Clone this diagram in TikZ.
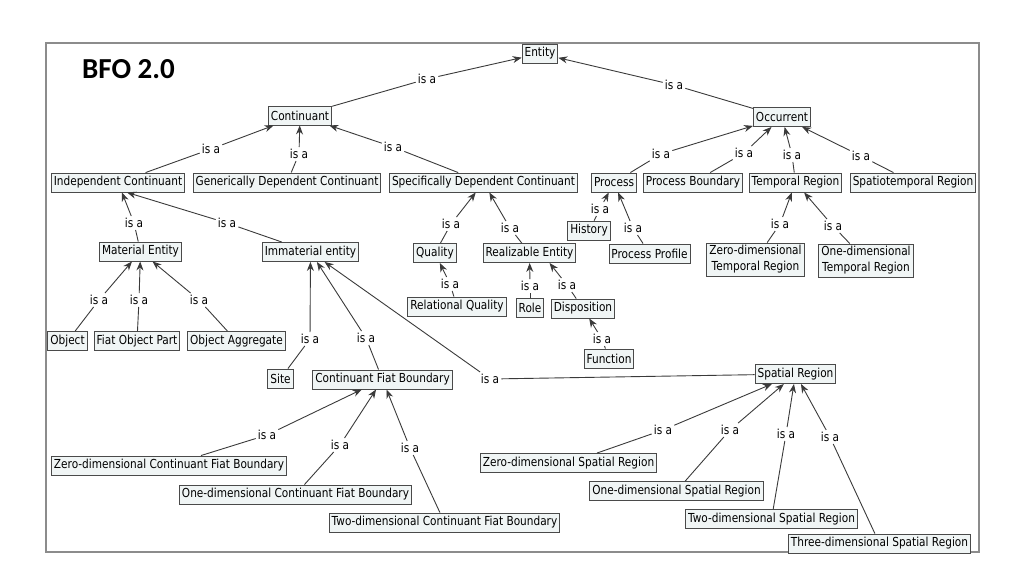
\documentclass[tikz,border=0pt]{standalone}
\usepackage{fontspec}
\usepackage{xcolor}
\usepackage{tikz}
\usetikzlibrary{arrows.meta}
\setmainfont{DejaVu Sans}
\newfontfamily\mapfont{DejaVu Sans}[FakeStretch=0.85]
\newfontfamily\titlefont{Carlito}
\definecolor{boxfill}{HTML}{F0F5F5}
\definecolor{boxline}{HTML}{4A4A4A}
\definecolor{linkcol}{HTML}{3A3A3A}
\definecolor{framecol}{HTML}{8C8C8C}
% is-a link: label name, label position, child, parent
\newcommand{\isalink}[4]{%
  \node[isa] (#1) at (#2) {is a};
  \draw[link] (#3) -- (#1);
  \draw[link,->] (#1) -- (#4);}

\begin{document}
\begin{tikzpicture}[x=1pt, y=-1pt, >={Stealth[length=9pt,width=7pt]},
  cls/.style={draw=boxline, fill=boxfill, line width=0.9pt, inner sep=2.5pt,
    minimum height=19pt, align=center, font=\fontsize{12.4}{16}\mapfont},
  isa/.style={inner sep=2pt, font=\fontsize{12.4}{16}\mapfont},
  link/.style={draw=linkcol, line width=0.9pt}]
  \useasboundingbox (0,0) rectangle (1024,576);
  % Frame and title
  \draw[framecol, line width=1.2pt] (46,43) rectangle (979,552);
  \node[anchor=west, inner sep=0pt, font=\fontsize{29}{30}\titlefont\bfseries] (title) at (82,69.5) {BFO 2.0};

  % Classes
  \node[cls] (entity) at (540,53.5) {Entity};
  \node[cls] (cont) at (300,115.5) {Continuant};
  \node[cls] (occ) at (782,117) {Occurrent};
  \node[cls] (indep) at (118,182.5) {Independent Continuant};
  \node[cls] (gdc) at (287,182.5) {Generically Dependent Continuant};
  \node[cls] (sdc) at (483.5,182.5) {Specifically Dependent Continuant};
  \node[cls] (proc) at (614,182.5) {Process};
  \node[cls] (pbound) at (693,182.5) {Process Boundary};
  \node[cls] (treg) at (795.5,182.5) {Temporal Region};
  \node[cls] (streg) at (913,182.5) {Spatiotemporal Region};
  \node[cls] (matent) at (140.5,251.5) {Material Entity};
  \node[cls] (imment) at (310.5,252) {Immaterial entity};
  \node[cls] (quality) at (435,253) {Quality};
  \node[cls] (realent) at (529.5,253) {Realizable Entity};
  \node[cls] (history) at (589,230.5) {History};
  \node[cls] (pprofile) at (649.5,253.5) {Process Profile};
  \node[cls] (zdtr) at (755.5,259.5) {Zero-dimensional\\Temporal Region};
  \node[cls] (odtr) at (866,260.5) {One-dimensional\\Temporal Region};
  \node[cls] (object) at (67.5,341) {Object};
  \node[cls] (fop) at (137,341) {Fiat Object Part};
  \node[cls] (oagg) at (236.5,341) {Object Aggregate};
  \node[cls] (relq) at (457,306.5) {Relational Quality};
  \node[cls] (role) at (530,308) {Role};
  \node[cls] (dispo) at (583,308.5) {Disposition};
  \node[cls] (func) at (609,358.5) {Function};
  \node[cls] (site) at (280.5,378.5) {Site};
  \node[cls] (cfb) at (382.5,379.5) {Continuant Fiat Boundary};
  \node[cls] (sreg) at (795.5,374) {Spatial Region};
  \node[cls] (zdcfb) at (169,465.5) {Zero-dimensional Continuant Fiat Boundary};
  \node[cls] (odcfb) at (295.5,494.5) {One-dimensional Continuant Fiat Boundary};
  \node[cls] (twcfb) at (444.5,522.5) {Two-dimensional Continuant Fiat Boundary};
  \node[cls] (zdsr) at (568.5,463) {Zero-dimensional Spatial Region};
  \node[cls] (odsr) at (676.5,491) {One-dimensional Spatial Region};
  \node[cls] (twsr) at (771.5,519) {Two-dimensional Spatial Region};
  \node[cls] (thsr) at (879.5,543.5) {Three-dimensional Spatial Region};

  % is a links
  \isalink{i-cont}{427,79}{cont}{entity}
  \isalink{i-occ}{674,85}{occ}{entity}
  \isalink{i-indep}{211,149}{indep}{cont}
  \isalink{i-gdc}{299,154}{gdc}{cont}
  \isalink{i-sdc}{393,147}{sdc}{cont}
  \isalink{i-proc}{661,154}{proc}{occ}
  \isalink{i-pbound}{744,153}{pbound}{occ}
  \isalink{i-treg}{792,155}{treg}{occ}
  \isalink{i-streg}{861,156}{streg}{occ}
  \isalink{i-matent}{134,223}{matent}{indep}
  \isalink{i-imment}{227,223}{imment}{[xshift=9pt]indep.south}
  \isalink{i-quality}{451,224}{quality}{sdc}
  \isalink{i-realent}{510,228}{realent}{sdc}
  \isalink{i-history}{600,209}{history}{proc}
  \isalink{i-pprofile}{633,228}{pprofile}{proc}
  \isalink{i-zdtr}{780,224}{zdtr}{treg}
  \isalink{i-odtr}{833,226}{odtr}{treg}
  \isalink{i-object}{99,300}{object}{matent}
  \isalink{i-fop}{139,300}{fop}{matent}
  \isalink{i-oagg}{199,300}{oagg}{matent}
  \isalink{i-relq}{450,284}{relq}{quality}
  \isalink{i-role}{530,286}{role}{realent}
  \isalink{i-dispo}{567,285}{dispo}{[xshift=20pt]realent.south}
  \isalink{i-func}{602,339}{func}{dispo}
  \isalink{i-site}{310,339}{site}{imment}
  \isalink{i-cfb}{366,338}{cfb}{imment}
  \isalink{i-sreg}{490,379}{sreg}{imment}
  \isalink{i-zdcfb}{267,435}{zdcfb}{cfb}
  \isalink{i-odcfb}{340,445}{odcfb}{cfb}
  \isalink{i-twcfb}{410,448}{twcfb}{cfb}
  \isalink{i-zdsr}{663,430}{zdsr}{sreg}
  \isalink{i-odsr}{730,430}{odsr}{sreg}
  \isalink{i-twsr}{786,434}{twsr}{sreg}
  \isalink{i-thsr}{830,437}{thsr}{sreg}
\end{tikzpicture}
\end{document}
